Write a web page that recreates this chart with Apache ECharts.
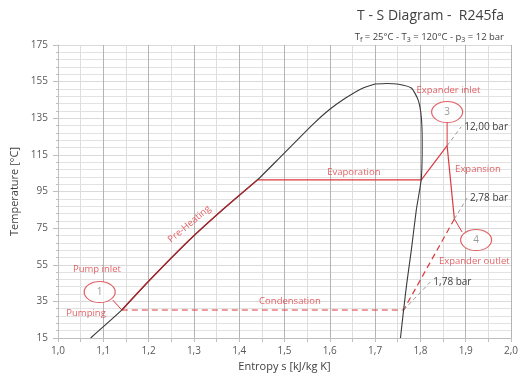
<!DOCTYPE html>
<html>
<head>
<meta charset="utf-8">
<script src="https://cdn.jsdelivr.net/npm/echarts@6/dist/echarts.min.js"></script>
<style>
  html, body { margin: 0; padding: 0; background: #fff; }
  #chart { width: 521px; height: 378px; }
</style>
</head>
<body>
<div id="chart"></div>
<script>
// Saturation dome of R245fa: entropy s [kJ/kg K], temperature T [°C]
const liquidLine = [[1.072, 15], [1.141, 30.3], [1.202, 46.5], [1.29, 68.5], [1.37, 86.5], [1.44, 101.3],
  [1.488, 113.1], [1.561, 131.3], [1.598, 139.5], [1.634, 145.9], [1.671, 151.3], [1.700, 153.7]];
const vaporLine = [[1.700, 153.7], [1.725, 154], [1.752, 153.6], [1.780, 151.5], [1.795, 145], [1.802, 135.7],
  [1.804, 121.5], [1.802, 102], [1.791, 85], [1.780, 63], [1.770, 45], [1.763, 30.5], [1.756, 15]];

// ORC cycle states
const preHeating = [[1.141, 30.3], [1.202, 46.5], [1.29, 68.5], [1.37, 86.5], [1.44, 101.3]];
const evaporation = [[1.44, 101.3], [1.802, 101.3], [1.859, 120]];
const expansion = [[1.859, 120], [1.875, 80]];
const condensation = [[1.875, 80], [1.763, 30.3], [1.141, 30.3]];

// Isobars beyond the cycle states
const isobar12 = [[1.859, 120], [1.890, 130.3]];
const isobar278 = [[1.875, 80], [1.903, 91.4]];
const isobar178 = [[1.763, 30.3], [1.822, 45.6]];
const isobarNames = ['12,00 bar', '2,78 bar', '1,78 bar'];

// State markers (ellipses) and their leader lines
const stateNames = ['1', '3', '4'];
const stateMarkers = [[1.092, 40.1], [1.859, 138.4], [1.923, 68.5]];
const leader1 = [[1.141, 30.3], [1.121, 35.7]];
const leader3 = [[1.859, 120], [1.859, 132.4]];
const leader4 = [[1.875, 80], [1.892, 72.9]];

// Process annotations
const noteTexts = ['Expander inlet', 'Expansion', 'Expander outlet', 'Evaporation', 'Condensation', 'Pump inlet', 'Pumping'];
const noteAnchors = [[1.862, 150.4], [1.927, 107.3], [1.919, 57], [1.653, 105.6], [1.512, 35.2], [1.086, 52.7], [1.062, 28.6]];

const RED = '#dc3a3f';
const FONT = '"Open Sans", "Noto Sans", sans-serif';

function plain(name, data, color, width, type, z) {
  return {
    name, type: 'line', data, showSymbol: false, symbol: 'none', silent: true,
    lineStyle: { color, width, type: type || 'solid' }, z: z || 2, animation: false
  };
}

function isobarSeries(data, label) {
  return Object.assign(plain(label, data, '#9a9a9a', 1, [4, 3], 3), {
    endLabel: { show: true, formatter: label, distance: 3, color: '#404040', fontSize: 10, fontFamily: FONT }
  });
}

const chart = echarts.init(document.getElementById('chart'), null, { renderer: 'canvas' });

chart.setOption({
  animation: false,
  title: [
    { text: 'T - S Diagram -  R245fa', right: 12, top: 4,
      textStyle: { fontSize: 14, fontWeight: 'normal', color: '#404040', fontFamily: FONT } },
    { text: 'T{s|f} = 25°C - T{s|3} = 120°C - p{s|3} = 12 bar', right: 12, top: 26,
      textStyle: { fontSize: 9.5, fontWeight: 'normal', color: '#404040', fontFamily: FONT,
        rich: { s: { fontSize: 7, verticalAlign: 'bottom', padding: [5, 0, 0, 0], color: '#404040', fontFamily: FONT } } } }
  ],
  grid: { left: 58, right: 8, top: 45, bottom: 40, containLabel: false },
  xAxis: {
    type: 'value', min: 1, max: 2, interval: 0.1,
    name: 'Entropy s [kJ/kg K]', nameLocation: 'middle', nameGap: 22,
    nameTextStyle: { fontSize: 11, color: '#404040', fontFamily: FONT },
    axisLine: { show: true, lineStyle: { color: '#bfbfbf' } },
    axisTick: { show: true, length: 4, lineStyle: { color: '#bfbfbf' } },
    minorTick: { show: true, splitNumber: 2, length: 4, lineStyle: { color: '#bfbfbf' } },
    axisLabel: { fontSize: 10, color: '#595959', fontFamily: FONT, margin: 8,
      formatter: v => v.toFixed(1).replace('.', ',') },
    splitLine: { show: true, lineStyle: { color: '#b4b4b4', width: 1 } },
    minorSplitLine: { show: true, lineStyle: { color: '#dedede', width: 1 } }
  },
  yAxis: {
    type: 'value', min: 15, max: 175, interval: 20,
    name: 'Temperature [°C]', nameLocation: 'middle', nameGap: 38, nameRotate: 90,
    nameTextStyle: { fontSize: 11, color: '#404040', fontFamily: FONT },
    axisLine: { show: true, lineStyle: { color: '#bfbfbf' } },
    axisTick: { show: true, length: 5, lineStyle: { color: '#bfbfbf' } },
    minorTick: { show: true, splitNumber: 5, length: 2, lineStyle: { color: '#bfbfbf' } },
    axisLabel: { fontSize: 10, color: '#595959', fontFamily: FONT, margin: 10 },
    splitLine: { show: true, lineStyle: { color: '#dadada', width: 1 } },
    minorSplitLine: { show: true, lineStyle: { color: '#e2e2e2', width: 1 } }
  },
  series: [
    Object.assign(plain('Saturated liquid', liquidLine, '#3a3a3a', 1.1, 'solid', 4), { smooth: 0.2 }),
    Object.assign(plain('Saturated vapour', vaporLine, '#3a3a3a', 1.1, 'solid', 4), { smooth: 0.2 }),
    Object.assign(plain('Pre-Heating', preHeating, '#a8242a', 1.4, 'solid', 5), { smooth: 0.2 }),
    plain('Evaporation', evaporation, RED, 1.2, 'solid', 3),
    plain('Expansion', expansion, RED, 1.2, 'solid', 3),
    plain('Condensation', condensation, RED, 1.2, [6, 4], 3),
    isobarSeries(isobar12, isobarNames[0]),
    isobarSeries(isobar278, isobarNames[1]),
    isobarSeries(isobar178, isobarNames[2]),
    plain('Leader 1', leader1, RED, 1, 'solid', 3),
    plain('Leader 3', leader3, RED, 1, 'solid', 3),
    plain('Leader 4', leader4, RED, 1, 'solid', 3),
    {
      name: 'States', type: 'scatter', silent: true, z: 6,
      symbol: 'circle', symbolSize: [31, 21],
      itemStyle: { color: '#ffffff', borderColor: RED, borderWidth: 1 },
      label: { show: true, position: 'inside', color: '#7f7f7f', fontSize: 10, fontFamily: FONT,
        formatter: p => stateNames[p.dataIndex] },
      data: stateMarkers
    },
    {
      name: 'Notes', type: 'scatter', silent: true, z: 7, symbolSize: 0,
      label: { show: true, position: 'inside', color: RED, fontSize: 9.5, fontFamily: FONT,
        formatter: p => noteTexts[p.dataIndex] },
      data: noteAnchors
    },
    {
      name: 'Pre-Heating note', type: 'scatter', silent: true, z: 7, symbolSize: 0,
      label: { show: true, position: 'inside', color: RED, fontSize: 9.5, fontFamily: FONT,
        rotate: 40, formatter: 'Pre-Heating' },
      data: [[1.290, 77.2]]
    }
  ]
});
</script>
</body>
</html>
